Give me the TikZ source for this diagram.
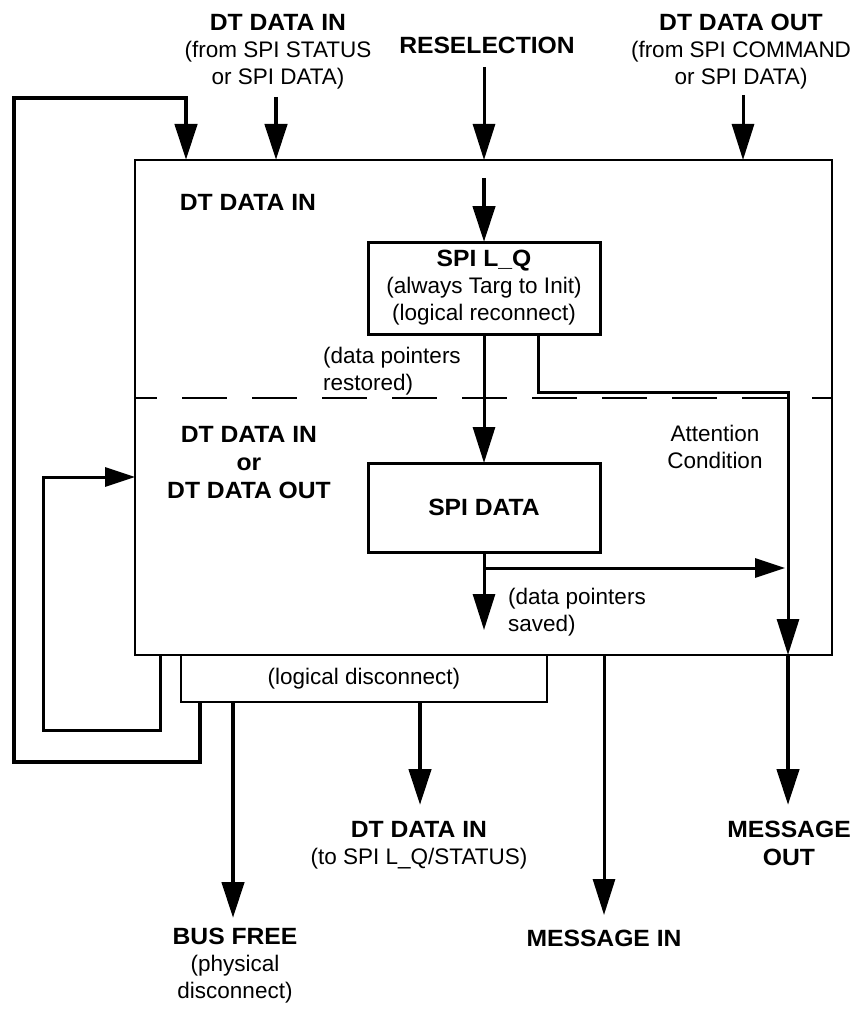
\documentclass[tikz,border=0pt]{standalone}
\usepackage{fontspec}
\setmainfont{Liberation Sans}[BoldFeatures={FakeStretch=1.05}]
\usetikzlibrary{arrows.meta}
\newcommand\bhd[1]{{\fontsize{23.5}{28}\selectfont\bfseries #1}}
\begin{document}
\begin{tikzpicture}[x=1pt,y=-1pt,
  tip/.style={-{Triangle[length=36pt,width=22pt]}},
  tiph/.style={-{Triangle[length=30pt,width=19pt]}},
  wmed/.style={line width=3pt},
  wthick/.style={line width=4.5pt},
  box/.style={draw, line width=2.2pt, inner sep=0pt, outer sep=0pt},
  sbox/.style={draw, line width=3pt, inner sep=0pt, outer sep=0pt, align=center, font=\fontsize{22.5}{27}\selectfont},
  lab/.style={font=\fontsize{22.5}{27}\selectfont, align=center, inner sep=0pt},
  blab/.style={font=\fontsize{23.5}{28}\selectfont\bfseries, align=center, inner sep=0pt}
]
\useasboundingbox (0,0) rectangle (862,1011);
\fill[white] (0,0) rectangle (862,1011);

% boxes
\node[box, minimum width=697pt, minimum height=495pt, anchor=north west] (main) at (135,160) {};
\node[box, minimum width=366pt, minimum height=47pt, anchor=north west, font=\fontsize{22.5}{27}\selectfont] (ld) at (181,655) {(logical disconnect)};
\node[sbox, minimum width=232pt, minimum height=92pt] (spilq) at (484,288) {\bhd{SPI L\_Q}\\(always Targ to Init)\\(logical reconnect)};
\node[sbox, minimum width=232pt, minimum height=89pt] (spidata) at (484,507.5) {\bhd{SPI DATA}};

% dashed divider
\draw[line width=1.3pt, dash pattern=on 45pt off 25pt, dash phase=23pt] (main.west |- 0,398) -- (main.east |- 0,398);

% labels
\node[lab] (lDTin) at (278,52) {\bhd{DT DATA IN}\\(from SPI STATUS\\or SPI DATA)};
\node[blab] (lRes) at (487,45) {RESELECTION};
\node[lab] (lDTout) at (741,52) {\bhd{DT DATA OUT}\\(from SPI COMMAND\\or SPI DATA)};
\node[blab] (lIn1) at (248,202) {DT DATA IN};
\node[lab, align=left, anchor=west] (lRest) at (323,371) {(data pointers\\restored)};
\node[blab] (lInOut) at (249,463) {DT DATA IN\\or\\DT DATA OUT};
\node[lab] (lAtt) at (715,447) {Attention\\Condition};
\node[lab, align=left, anchor=west] (lSaved) at (508,612) {(data pointers\\saved)};
\node[lab] (lToSpi) at (419,845) {\bhd{DT DATA IN}\\(to SPI L\_Q/STATUS)};
\node[lab] (lBus) at (235,966) {\bhd{BUS FREE}\\(physical\\disconnect)};
\node[blab] (lMin) at (604,938) {MESSAGE IN};
\node[blab] (lMout) at (789,843) {MESSAGE\\OUT};

% free ends
\coordinate (tA) at (276,97);
\coordinate (tR) at (484,67);
\coordinate (tO) at (743,95);
\coordinate (tQ) at (484,178);

% top inputs
\draw[wthick, tip] (tA) -- (tA |- main.north);
\draw[wmed, tip] (tR) -- (tR |- main.north);
\draw[wmed, tip] (tO) -- (tO |- main.north);
\draw[wthick, tip] (tQ) -- (spilq.north);

% outer loop (logical disconnect back to DT DATA IN)
\draw[wthick, tip] (ld.south -| 200,0) -- (200,762) -- (14,762) -- (14,98) -- (186,98) -- (186,0 |- main.north);
% inner loop (back to DT DATA IN or OUT)
\draw[wmed, tiph] (160,0 |- main.south) -- (160,730) -- (43,730) -- (43,477) -- (main.west |- 0,477);

% SPI L_Q to SPI DATA
\draw[wmed, tip] (spilq.south) -- (spidata.north);
% attention condition
\draw[wmed, tip] (spilq.south -| 538,0) -- (538,392) -- (788,392) -- (788,0 |- main.south);
\draw[wthick, tip] (788,0 |- main.south) -- (788,805);
% SPI DATA outputs
\draw[wmed, tip] (spidata.south) -- (484,630);
\draw[wmed, tiph] (484,568) -- (785,568);

% bottom outputs
\draw[wthick, tip] (ld.south -| 233,0) -- (233,918);
\draw[wthick, tip] (ld.south -| 420,0) -- (420,805);
\draw[wmed, tip] (main.south -| 604,0) -- (604,915);
\end{tikzpicture}
\end{document}
